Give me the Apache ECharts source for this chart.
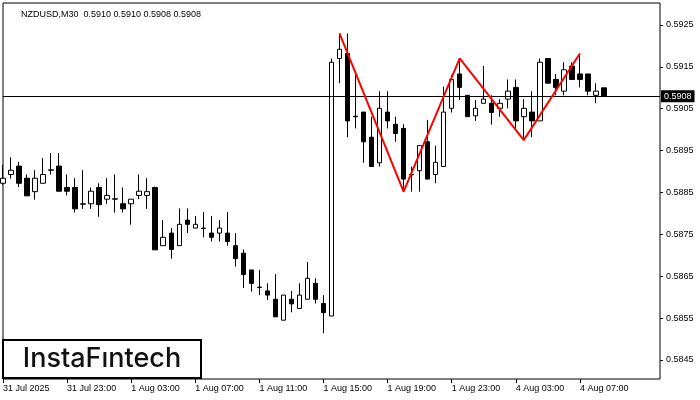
<!DOCTYPE html>
<html><head><meta charset="utf-8">
<script src="https://cdn.jsdelivr.net/npm/echarts@6/dist/echarts.min.js"></script>
<style>html,body{margin:0;padding:0;background:#fff}#c{width:700px;height:400px}</style>
</head><body><div id="c"></div>
<script>
const opens=[.58872,.58893,.58913,.58884,.58852,.58872,.58903,.58913,.58862,.58862,
.58822,.58823,.58862,.58834,.58834,.58823,.58823,.58843,.58843,.58862,
.58723,.58753,.58723,.58784,.58765,.58765,.58753,.58753,.58753,.58723,
.58705,.58665,.58624,.58615,.58595,.58545,.58595,.58573,.58595,.58633,
.58585,.58555,.59170,.59182,.59032,.59042,.58982,.58921,.59042,.59013,
.59003,.58893,.58902,.58971,.58893,.58912,.59051,.59133,.59082,.59033,
.59063,.59063,.59051,.59073,.59101,.59031,.59042,.59021,.59170,.59120,
.59092,.59152,.59133,.59133,.59082,.5910];
const highs=[.58916,.58934,.58923,.58893,.58903,.58932,.58944,.58944,.58893,.58884,
.58903,.58862,.58872,.58884,.58893,.58862,.58834,.58893,.58884,.58864,
.58784,.58765,.58812,.58812,.58794,.58803,.58794,.58784,.58803,.58753,
.58714,.58665,.58665,.58633,.58655,.58605,.58615,.58633,.58684,.58645,
.58605,.59170,.59230,.59230,.59131,.59042,.59031,.59092,.59092,.59031,
.59013,.58912,.58962,.59023,.58962,.59103,.59131,.59170,.59082,.59071,
.59152,.59082,.59073,.59120,.59120,.59073,.59092,.59170,.59170,.59133,
.59161,.59161,.59182,.59133,.59111,.5910];
const lows=[.58868,.58883,.58863,.58842,.58833,.58872,.58893,.58853,.58843,.58802,
.58811,.58811,.58792,.58823,.58802,.58802,.58773,.58834,.58811,.58713,
.58723,.58692,.58723,.58753,.58765,.58743,.58733,.58733,.58723,.58673,
.58622,.58613,.58605,.58593,.58553,.58545,.58564,.58573,.58595,.58585,
.58514,.58555,.59111,.58982,.59003,.58921,.58912,.58912,.59003,.58971,
.58852,.58852,.58852,.58882,.58872,.58912,.59041,.59071,.59031,.59021,
.59063,.59012,.59031,.59051,.59002,.58975,.58982,.59021,.59111,.59082,
.59082,.59120,.59101,.59082,.59063,.5908];
const closes=[.58884,.58903,.58872,.58842,.58884,.58893,.58904,.58853,.58853,.58811,
.58823,.58853,.58821,.58843,.58835,.58811,.58834,.58853,.58852,.58713,
.58743,.58714,.58774,.58774,.58774,.58764,.58743,.58765,.58733,.58692,
.58654,.58633,.58623,.58605,.58553,.58605,.58584,.58605,.58645,.58595,
.58563,.59161,.59192,.59021,.59031,.58971,.58912,.59051,.59021,.58991,
.58882,.58892,.58962,.58882,.58922,.59042,.59120,.59101,.59031,.59051,
.59073,.59041,.59063,.59092,.59021,.59051,.59021,.59161,.59111,.59101,
.59143,.59120,.59120,.59092,.59092,.5908];
const tickLabels=['31 Jul 2025','31 Jul 23:00','1 Aug 03:00','1 Aug 07:00','1 Aug 11:00','1 Aug 15:00','1 Aug 19:00','1 Aug 23:00','4 Aug 03:00','4 Aug 07:00'];
const priceTicks=[0.5845,0.5855,0.5865,0.5875,0.5885,0.5895,0.5905,0.5915,0.5925];
const patternIdx=[42,50,57,65,72];
const patternVal=[0.59230,0.58852,0.59170,0.58975,0.59182];
const currentPrice=0.5908;
const titleText='NZDUSD,M30  0.5910 0.5910 0.5908 0.5908';

const N=83;
const categories=[];
for(let i=0;i<N;i++) categories.push(String(i));
const candles=opens.map((o,i)=>[o,closes[i],lows[i],highs[i]]);
const pattern=new Array(N).fill(null);
patternIdx.forEach((k,j)=>{pattern[k]=patternVal[j];});
const showTick=(i)=> i%8===0 && i/8<tickLabels.length;
const FONT='Liberation Sans';

const chart=echarts.init(document.getElementById('c'),null,{renderer:'canvas'});
chart.setOption({
  animation:false,
  backgroundColor:'#fff',
  title:{text:titleText,left:16,top:5,textStyle:{fontSize:9,fontWeight:'normal',color:'#000',fontFamily:FONT}},
  grid:{left:3,top:3,right:40,bottom:21,show:true,borderColor:'#000',borderWidth:1,backgroundColor:'#fff'},
  xAxis:{type:'category',data:categories,boundaryGap:false,
    axisLine:{show:false},
    axisTick:{show:true,inside:false,length:4,interval:(i)=>showTick(i),lineStyle:{color:'#000'}},
    axisLabel:{show:true,interval:(i)=>showTick(i),formatter:(v,i)=>tickLabels[i/8]||'',align:'left',margin:5,fontSize:9,color:'#000',fontFamily:FONT},
    splitLine:{show:false}},
  yAxis:{type:'value',position:'right',min:0.584046,max:0.593025,scale:true,
    axisLine:{show:false},
    axisTick:{show:true,length:3,customValues:priceTicks,lineStyle:{color:'#000'}},
    axisLabel:{show:true,customValues:priceTicks,formatter:(v)=>v.toFixed(4),margin:6,fontSize:9,color:'#000',fontFamily:FONT},
    splitLine:{show:false}},
  series:[
    {type:'candlestick',data:candles,barWidth:5,
      itemStyle:{color:'#fff',color0:'#000',borderColor:'#000',borderColor0:'#000',borderWidth:1}},
    {type:'line',data:pattern,connectNulls:true,symbol:'none',lineStyle:{color:'#ff0000',width:2},z:5,
      markLine:{silent:true,precision:5,symbol:['none','none'],
        lineStyle:{color:'#000',type:'solid',width:1},
        label:{show:true,position:'end',formatter:()=>currentPrice.toFixed(4),color:'#fff',backgroundColor:'#000',padding:[2,3,1,3],fontSize:9,fontFamily:FONT,distance:1},
        data:[{yAxis:currentPrice}]}}
  ],
  graphic:[
    {type:'rect',shape:{x:3,y:340,width:198,height:38},style:{fill:'#fff',stroke:'#000',lineWidth:2},z:100},
    {type:'text',x:102,y:359,style:{text:'InstaFıntech',align:'center',verticalAlign:'middle',font:'500 27px Inter',fill:'#111'},z:101}
  ]
});
</script></body></html>
